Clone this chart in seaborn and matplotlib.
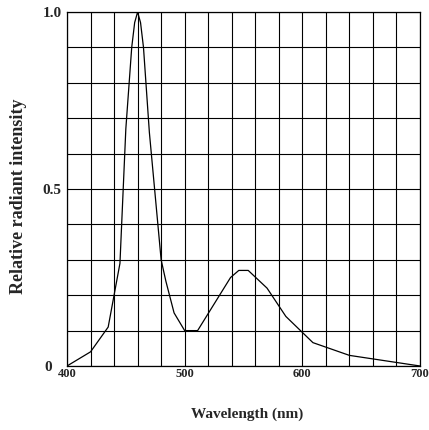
import matplotlib
matplotlib.use("Agg")
import matplotlib.pyplot as plt
import matplotlib.transforms as mtransforms
import seaborn as sns
import pandas as pd

# spectrum
wavelength = [400, 420, 435, 445, 450, 455, 457.5, 460, 462.5, 465, 470,
              480, 484, 491, 500, 511, 539, 546, 554, 570, 586, 609, 640, 700]
intensity = [0.0, 0.04, 0.11, 0.29, 0.67, 0.9, 0.97, 1.0, 0.97, 0.9, 0.66,
             0.3, 0.24, 0.15, 0.1, 0.1, 0.25, 0.27, 0.27, 0.22, 0.14, 0.066, 0.03, 0.0]

x_ticks = [400, 500, 600, 700]
x_tick_labels = ["400", "500", "600", "700"]
y_ticks = [0, 0.5, 1.0]
y_tick_labels = ["0", "0.5", "1.0"]

df = pd.DataFrame({"wavelength": wavelength, "intensity": intensity})

sns.set_style("white")
plt.rcParams["font.family"] = ["Liberation Serif", "DejaVu Serif"]
plt.rcParams["font.weight"] = "bold"

fig = plt.figure(figsize=(4.29, 4.30), dpi=100)
ax = fig.add_axes([67 / 429, 1 - 366 / 430, 353 / 429, 354 / 430])

sns.lineplot(data=df, x="wavelength", y="intensity", color="black",
             linewidth=0.9, ax=ax, sort=False)

ax.set_xlim(400, 700)
ax.set_ylim(0, 1.0)
ax.set_xticks(x_ticks)
ax.set_xticklabels(x_tick_labels, fontsize=9, fontweight="bold")
ax.set_xticks(range(400, 701, 20), minor=True)
ax.set_yticks(y_ticks)
ax.set_yticklabels(y_tick_labels, fontsize=11, fontweight="bold")
ax.set_yticks([i / 10 for i in range(11)], minor=True)
ax.tick_params(which="both", length=0)
ax.tick_params(axis="x", pad=1.5)
ax.tick_params(axis="y", pad=4)
ax.grid(which="both", color="black", linewidth=0.8)
ax.set_axisbelow(True)
for s in ax.spines.values():
    s.set_color("black")
    s.set_linewidth(0.9)

# push the "0" left so it sits beside "400"
lab0 = ax.get_yticklabels()[0]
lab0.set_transform(lab0.get_transform() +
                   mtransforms.ScaledTranslation(-9 / 100, 0, fig.dpi_scale_trans))

ax.set_xlabel("Wavelength (nm)", fontsize=11, fontweight="bold", va="center")
ax.xaxis.set_label_coords(0.51, -0.136)
ax.set_ylabel("Relative radiant intensity", fontsize=13, fontweight="bold", va="center")
ax.yaxis.set_label_coords(-0.137, 0.479)

fig.savefig("out.png", dpi=100)
